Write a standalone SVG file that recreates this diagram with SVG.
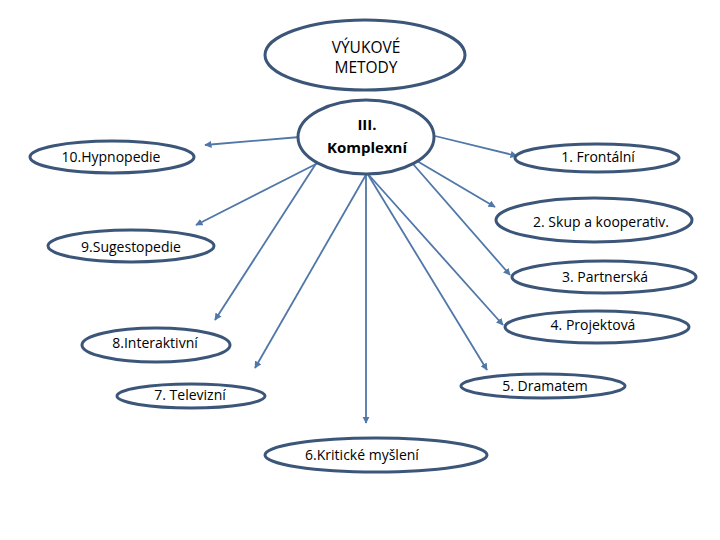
<svg xmlns="http://www.w3.org/2000/svg" width="720" height="540" viewBox="0 0 720 540">
<defs>
<marker id="ah" viewBox="0 0 10 10" refX="9" refY="5" markerWidth="4" markerHeight="4" orient="auto" markerUnits="strokeWidth">
<path d="M0,0 L10,5 L0,10 z" fill="#4f77a8"/>
</marker>
<style>
.n ellipse{fill:#fff;stroke:#3b5679;stroke-width:3}
.n text{font-family:"Open Sans","DejaVu Sans",sans-serif;font-size:14px;fill:#000;text-anchor:middle}
.t text{font-size:15.5px}
.b text{font-weight:bold;font-size:15px}
#c line{stroke:#4f77a8;stroke-width:1.8;marker-end:url(#ah)}
</style>
</defs>
<rect width="720" height="540" fill="#fff"/>
<g id="c">
<line x1="300" y1="137" x2="205" y2="145"/>
<line x1="318" y1="163" x2="196" y2="225"/>
<line x1="435" y1="136" x2="517" y2="156"/>
<line x1="417" y1="161" x2="495" y2="207"/>
<line x1="413" y1="164" x2="510" y2="275"/>
<line x1="367" y1="173" x2="503" y2="325"/>
<line x1="367" y1="173" x2="487" y2="370"/>
<line x1="366" y1="173" x2="366" y2="423"/>
<line x1="367" y1="173" x2="255" y2="368"/>
<line x1="317" y1="162" x2="215" y2="320"/>
</g>
<g id="metody" class="n t"><ellipse cx="365" cy="55" rx="100" ry="35"/><text x="366" y="53">VÝUKOVÉ</text><text x="366" y="73">METODY</text></g>
<g id="komplexni" class="n b"><ellipse cx="366" cy="137" rx="68" ry="37"/><text x="367" y="130">III.</text><text x="367" y="153">Komplexní</text></g>
<g id="n10" class="n"><ellipse cx="112" cy="157" rx="82" ry="16"/><text x="111" y="162">10.Hypnopedie</text></g>
<g id="n9" class="n"><ellipse cx="131" cy="246" rx="83" ry="16"/><text x="131" y="252">9.Sugestopedie</text></g>
<g id="n1" class="n"><ellipse cx="597" cy="158" rx="82" ry="14"/><text x="598" y="162">1. Frontální</text></g>
<g id="n2" class="n"><ellipse cx="594" cy="220" rx="98" ry="22"/><text x="601" y="227">2. Skup a kooperativ.</text></g>
<g id="n3" class="n"><ellipse cx="604" cy="277" rx="92" ry="16"/><text x="605" y="282">3. Partnerská</text></g>
<g id="n4" class="n"><ellipse cx="597" cy="327" rx="92" ry="16"/><text x="593" y="330">4. Projektová</text></g>
<g id="n5" class="n"><ellipse cx="543" cy="386" rx="82" ry="12"/><text x="545" y="391">5. Dramatem</text></g>
<g id="n6" class="n"><ellipse cx="376" cy="455" rx="111" ry="17"/><text x="362" y="460">6.Kritické myšlení</text></g>
<g id="n7" class="n"><ellipse cx="191" cy="396" rx="74" ry="12"/><text x="190" y="400">7. Televizní</text></g>
<g id="n8" class="n"><ellipse cx="156" cy="345" rx="74" ry="17"/><text x="155" y="348">8.Interaktivní</text></g>
</svg>
